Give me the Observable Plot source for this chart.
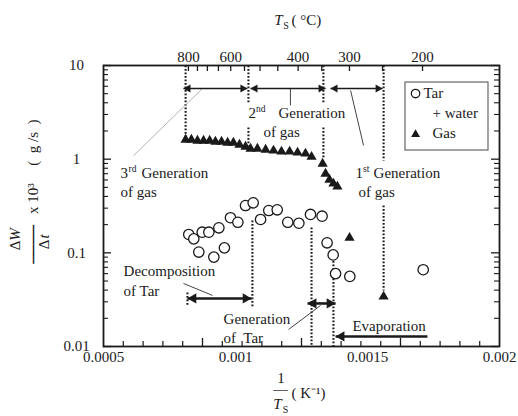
<!DOCTYPE html>
<html><head><meta charset="utf-8">
<script src="https://cdn.jsdelivr.net/npm/d3@7"></script>
<script src="https://cdn.jsdelivr.net/npm/@observablehq/plot@0.6"></script>
<style>body{margin:0;background:#fff;}</style>
</head><body><div id="chart"></div>
<script>
// ---- data ----
const tarX = [0.000823,0.000842,0.000861,0.000874,0.000899,0.000918,0.000937,0.000958,0.000981,0.001009,0.001038,0.001067,0.001095,0.001126,0.001158,0.001198,0.00124,0.001284,0.001328,0.001347,0.00137,0.001379,0.001433,0.001711];
const tarY = [0.157,0.141,0.102,0.166,0.166,0.090,0.185,0.113,0.237,0.212,0.320,0.342,0.227,0.283,0.288,0.212,0.207,0.257,0.246,0.128,0.095,0.060,0.056,0.066];
const gasX = [0.000811,0.000833,0.000856,0.000879,0.000902,0.000924,0.000947,0.00097,0.000992,0.001015,0.001038,0.001057,0.001083,0.001114,0.001144,0.001174,0.001205,0.001235,0.001265,0.001288,0.00133,0.001341,0.001356,0.001371,0.001386,0.001432,0.001561];
const gasY = [1.66,1.66,1.62,1.62,1.62,1.58,1.58,1.545,1.545,1.47,1.40,1.33,1.33,1.30,1.27,1.24,1.24,1.21,1.18,1.09,0.921,0.721,0.622,0.564,0.524,0.149,0.0351];

const xMajorLabelsAt = [0.0005,0.001,0.0015,0.002];
const xMajorLabels = ["0.0005","0.001","0.0015","0.002"];
// bottom tick marks as drawn in the picture (not aligned with the labels)
const xTickLong = [0.000875,0.00125,0.001625];
const xTickShort = [0.000575,0.00065,0.000725,0.0008,0.00095,0.001025,0.0011,0.001175,0.001325,0.0014,0.001475,0.00155,0.0017,0.001775,0.00185,0.001925];
const yMajor = [0.01,0.1,1,10];
const yMajorLabels = ["0.01","0.1","1","10"];
const yMinor = [0.02,0.03,0.04,0.05,0.06,0.07,0.08,0.09,0.2,0.3,0.4,0.5,0.6,0.7,0.8,0.9,2,3,4,5,6,7,8,9];
const topTicks = [800,750,700,650,600,550,500,450,400,350,300,250,200];
const topLabels = [800,600,400,300,200];
// secondary (°C) axis position on the 1/Ts axis, as drawn in the picture
const topPos = T => 0.0001223 + 0.7505 / (T + 273.15);

// dotted boundaries
const dotX  = [0.000811,0.001049,0.001049,0.001333,0.001333,0.001561,0.001561,0.000818,0.001064,0.001288,0.001371];
const dotY1 = [10,10,2.18,10,2.18,10,0.32,0.0377,0.222,0.1866,0.106];
const dotY2 = [1.66,3.93,1.40,4.0,1.04,0.968,0.0396,0.0274,0.0261,0.01,0.01];

// range arrows
const arrX1 = [0.000803,0.001057,0.00136,0.000818,0.001273,0.001379];
const arrX2 = [0.001045,0.001341,0.001557,0.001061,0.001379,0.001727];
const arrY  = [5.68,5.68,5.68,0.0326,0.0288,0.0128];
const arrHeads = ["both","both","both","both","both","start"];
const arrGroup = ["gas","gas","gas","tar","tar","tar"];

// leader lines
const leadX1 = [0.000875,0.001208,0.001436,0.000803,0.001201];
const leadY1 = [5.68,5.68,5.41,0.0471,0.0152];
const leadX2 = [0.000614,0.001208,0.001485,0.000913,0.001322];
const leadY2 = [1.093,3.74,1.40,0.0351,0.0274];
const leadKind = ["light","dark","dark","dark","dark"];

// annotation texts
const noteText = ["3","Generation","of gas","2","Generation","of gas","1","Generation","of gas","Decomposition","of Tar","Generation","of  Tar","Evaporation"];
const noteX = [0.0005644,0.000644,0.0005644,0.001049,0.001163,0.001106,0.001455,0.001523,0.001466,0.000576,0.000576,0.000955,0.000955,0.001443];
const noteY = [0.703,0.703,0.441,3.07,3.07,1.93,0.703,0.703,0.441,0.0632,0.0386,0.0194,0.0122,0.01636];
const supText = ["rd","nd","st"];
const supX = [0.0005947,0.0010777,0.001483];
const supY = [0.703,3.07,0.703];

// legend
const legendBoxX = [0.0016439,0.0019583];
const legendBoxY = [1.237,6.58];
const legendText = ["Tar","+ water","Gas"];
const legendTextX = [0.001712,0.001746,0.001746];
const legendTextY = [5.02,3.07,1.88];
const legendSymX = [0.001682,0.001682];
const legendSymY = [5.02,1.88];

// ---- build ----
const tar = tarX.map((x,i)=>({x, y: tarY[i]}));
const gas = gasX.map((x,i)=>({x, y: gasY[i]}));
const dots = dotX.map((x,i)=>({x, y1: dotY1[i], y2: dotY2[i]}));
const arrows = arrX1.map((x1,i)=>({x1, x2: arrX2[i], y: arrY[i], heads: arrHeads[i], g: arrGroup[i]}));
const heads = [];
arrows.forEach(a=>{
  heads.push({x: a.x1, y: a.y, dir: "left", g: a.g});
  if (a.heads === "both") heads.push({x: a.x2, y: a.y, dir: "right", g: a.g});
});
const leads = leadX1.map((x1,i)=>({x1, y1: leadY1[i], x2: leadX2[i], y2: leadY2[i], k: leadKind[i]}));
const notes = noteText.map((t,i)=>({t, x: noteX[i], y: noteY[i]}));
const sups = supText.map((t,i)=>({t, x: supX[i], y: supY[i]}));
const legTexts = legendText.map((t,i)=>({t, x: legendTextX[i], y: legendTextY[i]}));

const FW = 396, FH = 281;
const ink = "#1a1a1a";
const serif = "'Liberation Serif', 'Times New Roman', serif";
// margin label helper: absolute pixel position (centre) in the figure
const lab = (t, px, py, o = {}) => Plot.text([t], {text: d=>d, frameAnchor: "top-left", dx: px - 103, dy: py - 65,
  textAnchor: "middle", lineAnchor: "middle", fill: ink, fontSize: 15, fontFamily: serif, ...o});
const T = {fill: ink, fontFamily: serif, lineAnchor: "middle"};

const chart = Plot.plot({
  width: 518, height: 416,
  marginLeft: 103, marginRight: 19, marginTop: 65, marginBottom: 70,
  style: {fontFamily: serif, fontSize: "15px", color: ink, background: "#fff"},
  x: {type: "linear", domain: [0.0005, 0.002], axis: null},
  y: {type: "log", domain: [0.01, 10], axis: null},
  marks: [
    // ticks (inward)
    Plot.tickX(xTickLong, {x: d=>d, insetTop: FH-8, stroke: ink, strokeWidth: 1.3}),
    Plot.tickX(xTickShort, {x: d=>d, insetTop: FH-5, stroke: ink, strokeWidth: 1.2}),
    Plot.tickX(topTicks, {x: topPos, insetBottom: FH-6, stroke: ink, strokeWidth: 1.3}),
    Plot.tickY(yMajor, {y: d=>d, insetRight: FW-8, stroke: ink, strokeWidth: 1.3}),
    Plot.tickY(yMinor, {y: d=>d, insetRight: FW-5, stroke: ink, strokeWidth: 1.1}),
    Plot.tickY(yMajor, {y: d=>d, insetLeft: FW-8, stroke: ink, strokeWidth: 1.3}),
    Plot.tickY(yMinor, {y: d=>d, insetLeft: FW-5, stroke: ink, strokeWidth: 1.1}),
    // tick labels
    Plot.text(xMajorLabelsAt, {x: d=>d, text: (d,i)=>xMajorLabels[i], frameAnchor: "bottom", dy: 11, textAnchor: "middle", fontSize: 15, ...T}),
    Plot.text(yMajor, {y: d=>d, text: (d,i)=>yMajorLabels[i], frameAnchor: "left", dx: -27, textAnchor: "middle", fontSize: 15, ...T}),
    Plot.text(topLabels, {x: topPos, text: d=>String(d), frameAnchor: "top", dy: -8, textAnchor: "middle", fontSize: 15, ...T}),
    // legend box
    Plot.rect([0], {x1: legendBoxX[0], x2: legendBoxX[1], y1: legendBoxY[0], y2: legendBoxY[1], fill: "#fff", stroke: "#666", strokeWidth: 1.2}),
    // dotted boundaries
    Plot.link(dots, {x1: "x", x2: "x", y1: "y1", y2: "y2", stroke: ink, strokeWidth: 2.1, strokeDasharray: "1.8,1.7"}),
    // leader lines
    Plot.link(leads.filter(d=>d.k==="light"), {x1: "x1", y1: "y1", x2: "x2", y2: "y2", stroke: "#b5b5b5", strokeWidth: 1}),
    Plot.link(leads.filter(d=>d.k==="dark"), {x1: "x1", y1: "y1", x2: "x2", y2: "y2", stroke: "#444", strokeWidth: 1}),
    // arrows
    Plot.link(arrows.filter(d=>d.g==="gas"), {x1: "x1", x2: "x2", y1: "y", y2: "y", stroke: ink, strokeWidth: 1.5}),
    Plot.link(arrows.filter(d=>d.g==="tar"), {x1: "x1", x2: "x2", y1: "y", y2: "y", stroke: ink, strokeWidth: 2.6}),
    Plot.dot(heads.filter(d=>d.g==="gas" && d.dir==="right"), {x: "x", y: "y", symbol: "triangle", rotate: 90, r: 3.0, fill: ink, dx: -4.6}),
    Plot.dot(heads.filter(d=>d.g==="gas" && d.dir==="left"), {x: "x", y: "y", symbol: "triangle", rotate: -90, r: 3.0, fill: ink, dx: 4.6}),
    Plot.dot(heads.filter(d=>d.g==="tar" && d.dir==="right"), {x: "x", y: "y", symbol: "triangle", rotate: 90, r: 3.8, fill: ink, dx: -5.9}),
    Plot.dot(heads.filter(d=>d.g==="tar" && d.dir==="left"), {x: "x", y: "y", symbol: "triangle", rotate: -90, r: 3.8, fill: ink, dx: 5.9}),
    // data
    Plot.dot(tar, {x: "x", y: "y", r: 5.2, stroke: ink, strokeWidth: 1.3, fill: "#fff"}),
    Plot.dot(gas, {x: "x", y: "y", r: 3.8, symbol: "triangle", fill: ink, dy: 1.2}),
    // annotations
    Plot.text(notes, {x: "x", y: "y", text: "t", textAnchor: "start", fontSize: 15, ...T}),
    Plot.text(sups, {x: "x", y: "y", text: "t", textAnchor: "start", fontSize: 9.5, dy: -5, ...T}),
    // legend contents
    Plot.dot([0], {x: legendSymX[0], y: legendSymY[0], r: 4.2, stroke: ink, strokeWidth: 1.3, fill: "#fff"}),
    Plot.dot([0], {x: legendSymX[1], y: legendSymY[1], r: 3.3, symbol: "triangle", fill: ink, dy: 1}),
    Plot.text(legTexts, {x: "x", y: "y", text: "t", textAnchor: "start", fontSize: 15, ...T}),
    // frame
    Plot.frame({stroke: ink, strokeWidth: 1.8}),
    // top axis title
    lab("T", 278, 20, {fontStyle: "italic"}),
    lab("S", 285.5, 25, {fontSize: 10}),
    lab("( \u00B0C)", 291, 20, {textAnchor: "start"}),
    // x axis title
    lab("1", 280.5, 378),
    lab("\u2500\u2500\u2500", 280, 389.5, {fontFamily: "DejaVu Sans Mono", fontSize: 8}),
    lab("T", 277, 404, {fontStyle: "italic"}),
    lab("S", 285, 409, {fontSize: 10}),
    lab("( K\u207B\u00B9)", 291, 393, {textAnchor: "start"}),
    // y axis title (rotated)
    lab("\u0394", 15, 245, {rotate: -90}),
    lab("W", 15, 234, {rotate: -90, fontStyle: "italic"}),
    lab("\u2500\u2500\u2500\u2500", 33, 244, {rotate: -90, fontFamily: "DejaVu Sans Mono", fontSize: 16}),
    lab("\u0394", 44, 244, {rotate: -90}),
    lab("t", 44, 236, {rotate: -90, fontStyle: "italic"}),
    lab("x 10\u00B3", 33, 198, {rotate: -90}),
    lab("(  g /s  )", 33, 142, {rotate: -90})
  ]
});
document.getElementById("chart").appendChild(chart);
</script>
</body></html>
